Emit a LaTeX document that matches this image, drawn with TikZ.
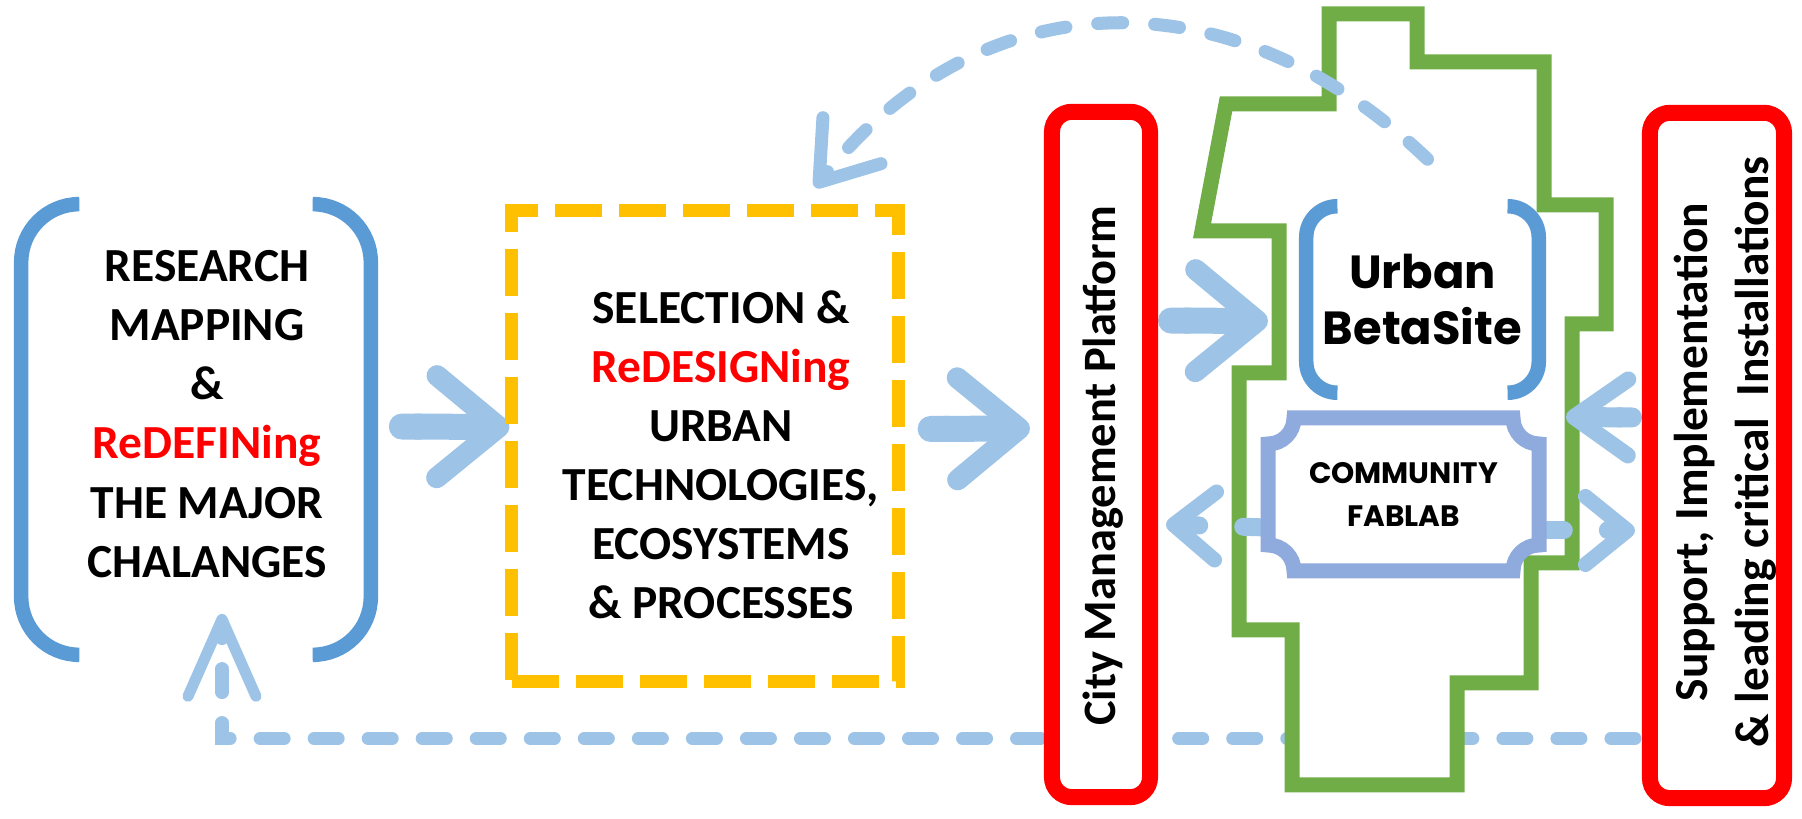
\documentclass[tikz,border=0pt]{standalone}
\usepackage{fontspec}
\setmainfont{Carlito}
\newfontfamily\sitefont{Poppins}
\usetikzlibrary{arrows.meta,calc,backgrounds}

\definecolor{brblue}{HTML}{5B9BD5}
\definecolor{arblue}{HTML}{9DC3E6}
\definecolor{selorange}{HTML}{FFC000}
\definecolor{platred}{HTML}{FF0000}
\definecolor{sitegreen}{HTML}{70AD47}
\definecolor{fabblue}{HTML}{8FAADC}

\begin{document}
\begin{tikzpicture}
      [%%%%%%%%%%%%%%%%%%%%%%%%%%%%%%
      x=0.01cm, y=-0.01cm,
      boxframe/.style={rectangle, inner sep=0pt},
      bigtext/.style={font=\bfseries\fontsize{13.5}{16.8}\selectfont, align=center, inner sep=0pt},
      sitetext/.style={font=\sitefont\bfseries\fontsize{13.2}{16.2}\selectfont, align=center, inner sep=0pt},
      fabtext/.style={font=\sitefont\bfseries\fontsize{8.4}{12}\selectfont, align=center, inner sep=0pt},
      selbox/.style={rectangle, draw=selorange, line width=0.13cm, dash pattern=on 0.47cm off 0.17cm},
      redbox/.style={rectangle, draw=platred, fill=white, line width=0.16cm, rounded corners=0.2cm},
      bracket/.style={draw=brblue, line width=0.145cm, rounded corners=#1},
      site/.style={draw=sitegreen, fill=white, line width=0.15cm, line join=miter},
      plaque/.style={draw=fabblue, fill=white, line width=0.15cm},
      bigarrow/.style={draw=arblue, line width=0.26cm, {Round Cap}-{Straight Barb[length=0.62cm, width=1.02cm, line width=0.21cm, round]}},
      smallarrow/.style={draw=arblue, line width=0.2cm, {Round Cap}-{Straight Barb[length=0.54cm, width=0.76cm, line width=0.16cm, round]}},
      fabarrow/.style={draw=arblue, line width=0.18cm, line cap=round, dash pattern=on 0.24cm off 0.44cm, -{Straight Barb[length=0.42cm, width=0.68cm, line width=0.15cm, round]}},
      loopdash/.style={draw=arblue, line width=0.13cm, line cap=round, dash pattern=on 0.25cm off 0.32cm, -{Straight Barb[length=0.53cm, width=0.74cm, line width=0.13cm, round]}},
      backdash/.style={draw=arblue, line width=0.13cm, line cap=round, dash pattern=on 0.24cm off 0.30cm, -{Straight Barb[length=0.77cm, width=0.68cm, line width=0.11cm, round]}},
      ]%%%%%%%%%%%%%%%%%%%%%%%%%%%%%%

      \useasboundingbox (0,0) rectangle (1802,819);

      \node[boxframe, minimum width=3.48cm, minimum height=4.49cm] (res) at (196,429.5) {};
      \node[selbox, minimum width=3.86cm, minimum height=4.70cm] (sel) at (705,446) {};
      \node[redbox, minimum width=0.98cm, minimum height=6.85cm] (city) at (1101,454.5) {};
      \node[redbox, minimum width=1.34cm, minimum height=6.85cm] (sup) at (1717,455.5) {};

      % brackets
      \draw[bracket=0.58cm] ($(res.north west)+(58,0)$) -- (res.north west) -- (res.south west) -- ($(res.south west)+(58,0)$);
      \draw[bracket=0.58cm] ($(res.north east)+(-58,0)$) -- (res.north east) -- (res.south east) -- ($(res.south east)+(-58,0)$);

      \node[sitetext, minimum width=2.31cm, minimum height=1.85cm] (urban) at (1422.5,299.5) {Urban\\BetaSite};
      \draw[bracket=0.31cm] ($(urban.north west)+(31,0)$) -- (urban.north west) -- (urban.south west) -- ($(urban.south west)+(31,0)$);
      \draw[bracket=0.31cm] ($(urban.north east)+(-31,0)$) -- (urban.north east) -- (urban.south east) -- ($(urban.south east)+(-31,0)$);

      \node[fabtext, minimum width=2.71cm, minimum height=1.53cm] (fab) at (1403.5,494.5) {COMMUNITY\\FABLAB};

      \node[bigtext] (resT) at (207,414) {RESEARCH\\MAPPING\\\&\\\textcolor{platred}{ReDEFINing}\\THE MAJOR\\CHALANGES};
      \node[bigtext] (selT) at (721,455) {SELECTION \&\\\textcolor{platred}{ReDESIGNing}\\URBAN\\TECHNOLOGIES,\\ECOSYSTEMS\\\& PROCESSES};
      \node[bigtext, rotate=90, font=\bfseries\fontsize{13.2}{16.8}\selectfont] (cityT) at (1103,466) {City Management Platform};
      \node[bigtext, rotate=90, font=\bfseries\fontsize{13.5}{17.4}\selectfont] (supT) at (1725,452) {Support, Implementation\\\& leading critical~~Installations};

      \begin{pgfonlayer}{background}
      % return line at the bottom
      \draw[backdash] ($(sup.west)+(-7,283)$) -| ($(res.south)+(26,-41)$);
      % site outline
      \draw[site] (1329,14) -- (1417,14) -- (1417,62) -- (1544,62) -- (1544,205)
        -- (1606,205) -- (1606,324) -- (1572,324) -- (1572,563) -- (1531,563)
        -- (1531,683) -- (1457,683) -- (1457,785) -- (1292,785) -- (1292,630)
        -- (1239,630) -- (1239,373) -- (1279,373) -- (1279,231) -- (1202,231)
        -- (1226,104) -- (1329,104) -- cycle;
      \coordinate (gL) at (1268,321);
      \coordinate (gR) at (1566,417);
      \draw[bigarrow] ($(res.east)+(18,-3)$) -- ($(sel.west)+(4,-19)$);
      \draw[bigarrow] ($(sel.east)+(13,-17)$) -- ($(city.west)+(-14,-26)$);
      \draw[bigarrow] ($(city.east)+(0,-134)$) -- (gL);
      \draw[smallarrow] ($(sup.west)+(0,-38)$) -- (gR);
      \draw[fabarrow] ($(fab.west)+(0,33)$) -- ($(city.east)+(8,70)$);
      \draw[fabarrow] ($(fab.east)+(0,36)$) -- ($(sup.west)+(-7,75)$);
      \draw[loopdash] ($(urban.north)+(5,-47)$) .. controls (1230,-30) and (980,-21) .. ($(sel.north)+(110,-17)$);
      % fablab plaque
      \draw[plaque] (1294,418) -- (1513,418) .. controls (1513,432.4) and (1524.6,444) .. (1539,444)
        -- (1539,545) .. controls (1524.6,545) and (1513,556.6) .. (1513,571)
        -- (1294,571) .. controls (1294,556.6) and (1282.4,545) .. (1268,545)
        -- (1268,444) .. controls (1282.4,444) and (1294,432.4) .. (1294,418) -- cycle;
      \end{pgfonlayer}
\end{tikzpicture}
\end{document}
